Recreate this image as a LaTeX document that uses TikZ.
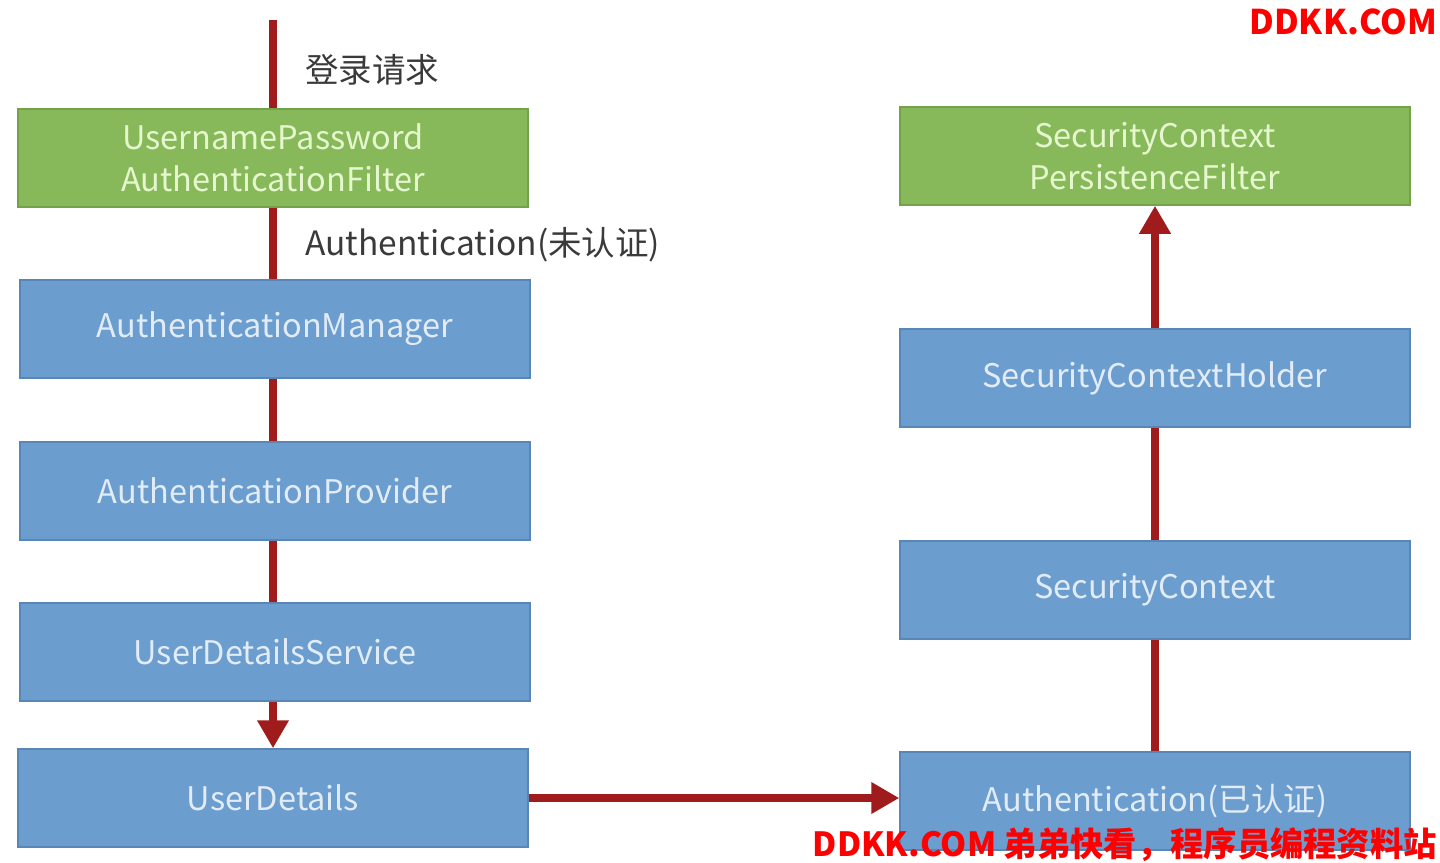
\documentclass[tikz,border=0pt]{standalone}
\usepackage{fontspec}
\setmainfont{Noto Sans CJK SC}
\usetikzlibrary{arrows.meta}
\definecolor{boxblue}{HTML}{6C9DCF}
\definecolor{boxblueline}{HTML}{5A86B6}
\definecolor{boxgreen}{HTML}{87B95B}
\definecolor{boxgreenline}{HTML}{72A24A}
\definecolor{txtblue}{HTML}{E2ECF7}
\definecolor{txtgreen}{HTML}{E6F7CF}
\definecolor{darkred}{HTML}{A01C1C}
\definecolor{labelgray}{HTML}{3A3A3A}
\definecolor{wmred}{HTML}{FF0000}
\begin{document}
\begin{tikzpicture}[x=1pt,y=-1pt,
  bluebox/.style={draw=boxblueline, line width=1.5pt, fill=boxblue, text=txtblue,
    minimum width=510pt, minimum height=98pt, inner sep=0pt,
    font=\fontsize{32.5}{42}\selectfont, align=center},
  greenbox/.style={bluebox, draw=boxgreenline, fill=boxgreen, text=txtgreen},
  conn/.style={draw=darkred, line width=8pt},
  arr/.style={conn, -{Triangle[width=30pt,length=28pt]}},
  lbl/.style={text=labelgray, font=\fontsize{33.5}{38}\selectfont, anchor=west, inner sep=0pt},
  wm/.style={text=wmred, font=\fontsize{34}{38}\selectfont\bfseries, inner sep=0pt}
]
\useasboundingbox (0,0) rectangle (1440,862);
\fill[white] (0,0) rectangle (1440,862);

% left column
\node[greenbox] (upaf) at (273,158) {UsernamePassword\\AuthenticationFilter};
\node[bluebox] (am) at (275,329) {\raisebox{-3pt}{AuthenticationManager}};
\node[bluebox] (ap) at (275,491) {\raisebox{-2pt}{AuthenticationProvider}};
\node[bluebox] (uds) at (275,652) {\raisebox{-2pt}{UserDetailsService}};
\node[bluebox] (ud) at (273,798) {UserDetails};

% right column
\node[greenbox] (scpf) at (1155,156) {SecurityContext\\PersistenceFilter};
\node[bluebox] (sch) at (1155,378) {\raisebox{-2pt}{SecurityContextHolder}};
\node[bluebox] (sc) at (1155,590) {\raisebox{-2pt}{SecurityContext}};
\node[bluebox] (auth) at (1155,801) {Authentication(已认证)};

\coordinate (start) at (273,20);

% connectors
\draw[conn] (start) -- (start |- upaf.north);
\draw[conn] (start |- upaf.south) -- (start |- am.north);
\draw[conn] (start |- am.south) -- (start |- ap.north);
\draw[conn] (start |- ap.south) -- (start |- uds.north);
\draw[arr] (start |- uds.south) -- (start |- ud.north);
\draw[arr] (ud.east) -- (ud.east -| auth.west);
\draw[conn] (auth.north) -- (sc.south);
\draw[conn] (sc.north) -- (sch.south);
\draw[arr] (sch.north) -- (scpf.south);

% labels
\node[lbl] (l1) at (305,70) {登录请求};
\node[lbl] (l2) at (305,245) {Authentication(未认证)};

% watermarks
\node[wm, anchor=east] (wm1) at (1437,22) {DDKK.COM};
\node[wm, anchor=east, font=\fontsize{33.3}{38}\selectfont\bfseries] (wm2) at (1437,845) {DDKK.COM 弟弟快看，程序员编程资料站};
\end{tikzpicture}
\end{document}
